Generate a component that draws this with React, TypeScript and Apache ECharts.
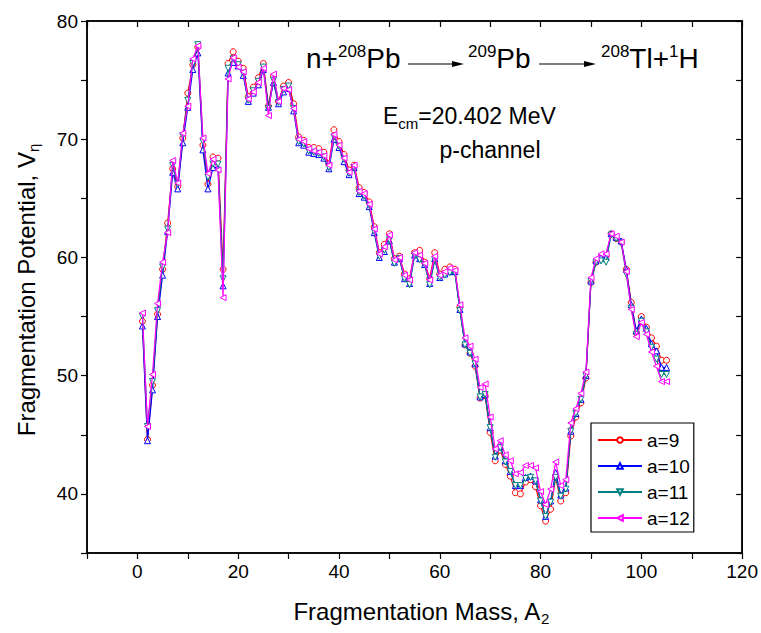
import React, { useEffect, useRef } from "react";
import * as echarts from "echarts";

const FONT = "'Liberation Sans', Arial, sans-serif";

const seriesNames = ["a=9", "a=10", "a=11", "a=12"];
const seriesColors = ["#ff0000", "#0000ff", "#008080", "#ff00ff"];

const a9 = [54.6,44.6,49.2,55.2,59.0,62.9,67.5,66.0,70.1,73.9,
  76.3,77.8,69.5,66.2,68.5,68.4,59.0,76.4,77.4,76.6,
  76.0,73.6,74.4,75.2,76.4,72.8,75.3,73.2,74.5,74.8,
  73.0,70.2,69.9,69.3,69.3,69.2,68.9,67.9,70.8,69.8,
  68.7,67.4,67.8,65.9,65.5,64.7,62.6,60.4,61.1,62.0,
  59.9,60.1,58.6,58.2,60.4,60.6,59.6,58.2,60.4,58.6,
  59.0,59.2,59.0,55.8,52.6,51.9,50.8,48.1,48.3,45.2,
  42.8,43.7,42.5,41.5,40.1,40.0,41.0,41.2,40.6,39.0,
  37.7,38.7,41.4,39.4,40.1,44.9,46.5,47.7,49.8,57.9,
  59.6,60.0,60.1,62.0,61.6,61.3,59.0,56.2,53.6,55.0,
  54.1,53.2,52.5,51.3,51.3];
const a10 = [54.2,44.5,48.8,55.0,58.5,62.2,67.2,65.8,69.7,72.7,
  75.9,77.3,69.1,65.8,67.6,67.6,57.6,75.6,76.5,76.2,
  75.4,73.2,73.9,74.6,75.9,72.7,74.8,73.0,74.0,74.3,
  72.4,69.7,69.5,68.9,68.8,68.7,68.4,67.5,70.0,69.3,
  68.1,67.0,67.6,65.4,65.1,64.3,62.1,60.0,60.5,61.4,
  59.6,59.9,58.2,57.8,60.2,59.9,59.4,57.8,59.9,58.3,
  58.6,58.8,58.8,55.6,52.7,52.0,51.0,48.2,48.4,45.6,
  43.2,44.0,42.8,41.9,40.7,40.7,41.4,41.5,41.1,39.5,
  38.1,39.4,41.8,39.9,40.5,45.3,46.8,48.0,50.0,58.0,
  59.7,60.0,60.0,62.0,61.7,61.4,59.0,56.0,53.8,54.8,
  54.0,52.7,52.1,50.7,50.7];
const a11 = [55.0,45.7,49.5,55.5,59.2,62.4,67.8,66.2,70.3,73.3,
  76.4,78.0,69.8,66.8,67.9,67.9,58.2,76.0,76.8,76.3,
  75.6,73.3,74.1,74.9,76.1,72.6,75.0,73.1,74.2,74.5,
  72.6,69.8,69.6,69.0,68.9,68.8,68.5,67.6,70.2,69.4,
  68.3,67.1,67.6,65.5,65.2,64.4,62.2,60.1,60.6,61.5,
  59.5,59.9,58.2,57.7,60.2,59.8,59.4,57.7,59.8,58.3,
  58.5,58.7,58.7,55.5,52.6,51.9,51.0,48.2,48.4,45.6,
  43.1,43.9,42.7,41.9,40.7,40.7,41.3,41.4,41.1,39.4,
  38.1,39.3,41.4,39.8,40.4,45.3,46.8,48.0,50.0,58.0,
  59.6,59.7,59.6,61.9,61.6,61.2,58.6,55.7,53.5,54.6,
  53.7,52.4,51.4,50.1,50.1];
const a12 = [55.3,45.7,50.1,56.1,59.6,62.1,68.2,66.3,70.5,72.8,
  76.8,77.9,70.1,67.1,68.3,67.4,56.6,75.1,76.9,76.1,
  75.7,73.4,74.0,74.8,76.0,72.0,75.5,73.2,74.3,74.2,
  72.6,70.0,69.8,69.2,69.0,68.9,68.6,67.8,70.4,69.5,
  68.4,67.2,67.8,65.6,65.4,64.5,62.4,60.3,60.9,61.9,
  59.8,60.0,58.5,58.1,60.4,60.2,59.5,58.1,60.1,58.5,
  58.8,59.1,58.9,56.0,53.2,52.5,51.4,49.0,49.3,46.5,
  43.8,44.5,43.3,42.8,41.7,41.8,42.4,42.4,42.2,40.2,
  39.1,40.4,42.7,40.7,41.2,46.0,47.2,48.5,50.3,58.3,
  59.9,60.3,60.3,62.0,61.8,61.3,58.8,55.6,53.3,54.5,
  53.5,52.0,50.8,49.5,49.5];

const seriesValues = [a9, a10, a11, a12];
const symbols = ["circle", "triangle", "triangle", "triangle"];
const symbolRotates = [0, 0, 180, 90];

const X_MIN = -10, X_MAX = 120, X_STEP = 10;
const Y_MIN = 35, Y_MAX = 80, Y_STEP = 5;

export default function App() {
  const ref = useRef<HTMLDivElement>(null);
  useEffect(() => {
    const chart = echarts.init(ref.current!, null, { renderer: "svg" });
    const axisLine = { show: true, onZero: false, lineStyle: { color: "#000", width: 1.5 } };
    const series = seriesValues.map((vals, k) => ({
      name: seriesNames[k],
      type: "line",
      xAxisIndex: 0,
      yAxisIndex: 0,
      data: vals.map((v, i) => [i + 1, v]),
      symbol: symbols[k],
      symbolRotate: symbolRotates[k],
      symbolSize: 6,
      showAllSymbol: true,
      lineStyle: { color: seriesColors[k], width: 1.2 },
      itemStyle: { color: "#fff", borderColor: seriesColors[k], borderWidth: 1 },
      z: 2 + k,
    }));
    const sup = (fs: number) => ({ fontSize: fs, fontFamily: FONT, color: "#000", padding: [0, 0, 14, 0] });
    const big = (fs: number) => ({ fontSize: fs, fontFamily: FONT, color: "#000" });
    const sub = { fontSize: 15, fontFamily: FONT, color: "#000", padding: [14, 0, 0, 0] };
    const arrow = (x1: number, x2: number, y: number) => [
      { type: "line", shape: { x1, y1: y, x2: x2 - 8, y2: y }, style: { stroke: "#000", lineWidth: 1.2 } },
      { type: "polygon", shape: { points: [[x2 - 12, y - 3], [x2, y], [x2 - 12, y + 3]] }, style: { fill: "#000" } },
    ];
    chart.setOption({
      animation: false,
      backgroundColor: "#fff",
      grid: { left: 87, top: 21, right: 16, bottom: 80, containLabel: false,
        show: true, borderColor: "#000", borderWidth: 1.5, backgroundColor: "transparent" },
      xAxis: [
        {
          type: "value", min: X_MIN, max: X_MAX, interval: X_STEP, position: "bottom",
          axisLine, splitLine: { show: false },
          axisTick: { show: true, inside: false, length: 6, lineStyle: { color: "#000", width: 1.2 } },
          axisLabel: { color: "#000", fontSize: 19, fontFamily: FONT, margin: 9,
            formatter: (v: number) => (v % 20 === 0 ? String(v) : "") },
        },
        {
          type: "value", min: X_MIN, max: X_MAX, interval: X_STEP, position: "top",
          axisLine, splitLine: { show: false },
          axisTick: { show: true, inside: true, length: 6, lineStyle: { color: "#000", width: 1.2 } },
          axisLabel: { show: false },
        },
      ],
      yAxis: [
        {
          type: "value", min: Y_MIN, max: Y_MAX, interval: Y_STEP, position: "left",
          axisLine, splitLine: { show: false },
          axisTick: { show: true, inside: false, length: 6, lineStyle: { color: "#000", width: 1.2 } },
          axisLabel: { color: "#000", fontSize: 19, fontFamily: FONT, margin: 9,
            formatter: (v: number) => (v % 10 === 0 ? String(v) : "") },
        },
        {
          type: "value", min: Y_MIN, max: Y_MAX, interval: Y_STEP, position: "right",
          axisLine, splitLine: { show: false },
          axisTick: { show: true, inside: true, length: 6, lineStyle: { color: "#000", width: 1.2 } },
          axisLabel: { show: false },
        },
      ],
      legend: {
        show: true,
        orient: "vertical",
        left: 591,
        top: 423,
        data: seriesNames,
        itemWidth: 44,
        itemHeight: 7,
        itemGap: 6,
        padding: [7, 4, 4, 6],
        borderColor: "#000",
        borderWidth: 1.2,
        backgroundColor: "#fff",
        textStyle: { color: "#000", fontSize: 19, fontFamily: FONT, lineHeight: 20 },
      },
      series,
      graphic: [
        {
          type: "text", x: 306, y: 58,
          style: {
            text: "{b|n+}{s|208}{b|Pb}", verticalAlign: "middle",
            rich: { b: big(28), s: sup(17) },
          },
        },
        ...arrow(408, 464, 64),
        {
          type: "text", x: 468, y: 58,
          style: { text: "{s|209}{b|Pb}", verticalAlign: "middle", rich: { b: big(28), s: sup(17) } },
        },
        ...arrow(539, 596, 64),
        {
          type: "text", x: 601, y: 58,
          style: { text: "{s|208}{b|Tl+}{s|1}{b|H}", verticalAlign: "middle", rich: { b: big(28), s: sup(17) } },
        },
        {
          type: "text", x: 383, y: 116,
          style: {
            text: "{b|E}{d|cm}{b|=20.402 MeV}", verticalAlign: "middle",
            rich: { b: big(23), d: sub },
          },
        },
        {
          type: "text", x: 490, y: 150,
          style: { text: "p-channel", align: "center", verticalAlign: "middle", fontSize: 23, fontFamily: FONT, fill: "#000" },
        },
        {
          type: "text", x: 421, y: 611,
          style: {
            text: "{b|Fragmentation Mass, A}{d|2}", align: "center", verticalAlign: "middle",
            rich: { b: big(24), d: sub },
          },
        },
        {
          type: "text", x: 26, y: 290, rotation: Math.PI / 2,
          style: {
            text: "{b|Fragmentation Potential, V}{d|η}", align: "center", verticalAlign: "middle",
            rich: { b: big(24), d: sub },
          },
        },
      ],
    });
    return () => chart.dispose();
  }, []);
  return <div ref={ref} style={{ position: "fixed", left: 0, top: 0, width: 761, height: 633 }} />;
}
